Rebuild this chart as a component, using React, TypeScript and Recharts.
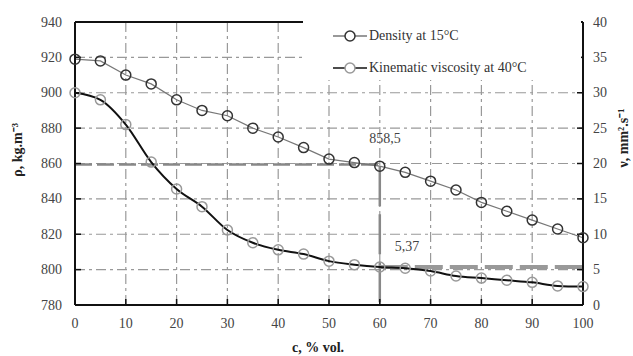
import {
  LineChart,
  Line,
  XAxis,
  YAxis,
  CartesianGrid,
  ReferenceLine,
  Label,
} from 'recharts';

const conc = [0, 5, 10, 15, 20, 25, 30, 35, 40, 45, 50, 55, 60, 65, 70, 75, 80, 85, 90, 95, 100];
const density = [919, 918, 910, 905, 896, 890, 887, 880, 875, 869, 862.5, 860.5, 858.5, 855, 850, 845, 838, 833, 828, 823, 818];
const viscosity = [30, 29, 25.5, 20.2, 16.4, 13.9, 10.6, 8.8, 7.8, 7.2, 6.2, 5.7, 5.37, 5.2, 4.8, 4.1, 3.8, 3.5, 3.2, 2.7, 2.6];

const xTicks = [0, 10, 20, 30, 40, 50, 60, 70, 80, 90, 100];
const leftTicks = [780, 800, 820, 840, 860, 880, 900, 920, 940];
const rightTicks = [0, 5, 10, 15, 20, 25, 30, 35, 40];

const data = conc.map((c, i) => ({ c, density: density[i], viscosity: viscosity[i] }));

const FONT = '"Liberation Serif", "Times New Roman", serif';

// ticks point inward (negative tickSize), labels shifted back outside
function makeTick(anchor: 'start' | 'middle' | 'end', dx: number, dy: number) {
  return (props: any) => {
    const { x, y, payload } = props;
    return (
      <text
        x={x + dx}
        y={y + dy}
        textAnchor={anchor}
        dominantBaseline="central"
        fontFamily={FONT}
        fontSize={14}
        fill="#444"
      >
        {payload.value}
      </text>
    );
  };
}

function rotatedText(x: number, y: number, text: string) {
  return () => (
    <text
      x={x}
      y={y}
      transform={`rotate(-90 ${x} ${y})`}
      textAnchor="middle"
      dominantBaseline="central"
      fontFamily={FONT}
      fontSize={14}
      fontWeight="bold"
      fill="#222"
    >
      {text}
    </text>
  );
}

function plainText(x: number, y: number, text: string, bold = false) {
  return () => (
    <text
      x={x}
      y={y}
      textAnchor="middle"
      dominantBaseline="central"
      fontFamily={FONT}
      fontSize={14}
      fontWeight={bold ? 'bold' : 'normal'}
      fill={bold ? '#222' : '#444'}
    >
      {text}
    </text>
  );
}

function LegendBox() {
  const row = (stroke: string, dotStroke: string, text: string) => (
    <div style={{ display: 'flex', alignItems: 'center', height: 32 }}>
      <svg width={34} height={14} style={{ marginRight: 2 }}>
        <line x1={0} y1={7} x2={34} y2={7} stroke={stroke} strokeWidth={1.5} />
        <circle cx={17} cy={7} r={5} fill="#fff" stroke={dotStroke} strokeWidth={1.5} />
      </svg>
      <span>{text}</span>
    </div>
  );
  return (
    <div
      style={{
        position: 'absolute',
        left: 303,
        top: 14,
        background: '#fff',
        width: 278,
        height: 66,
        paddingLeft: 30,
        paddingTop: 6,
        boxSizing: 'border-box',
        fontFamily: FONT,
        fontSize: 14,
        color: '#333',
      }}
    >
      {row('#777', '#333', 'Density at 15°C')}
      {row('#111', '#999', 'Kinematic viscosity at 40°C')}
    </div>
  );
}

const tickLine = { stroke: '#111', strokeWidth: 1.5 };
const axisLine = { stroke: '#111', strokeWidth: 2 };

export default function App() {
  return (
    <div style={{ position: 'absolute', left: 0, top: 0, width: 633, height: 356, background: '#fff', fontFamily: FONT }}>
      <LineChart width={633} height={356} data={data} margin={{ top: 22, right: 0, bottom: 0, left: 0 }}>
        <CartesianGrid yAxisId="left" stroke="#999" strokeWidth={1.2} strokeDasharray="10 4 3 4" />
        <XAxis
          dataKey="c"
          type="number"
          domain={[0, 100]}
          ticks={xTicks}
          height={51}
          tick={makeTick('middle', 0, 22)}
          tickSize={-6}
          tickMargin={2}
          tickLine={tickLine}
          axisLine={axisLine}
        >
          <Label content={plainText(318, 347, 'c, % vol.', true)} />
        </XAxis>
        <YAxis
          yAxisId="left"
          domain={[780, 940]}
          ticks={leftTicks}
          width={75}
          tick={makeTick('end', -17, 0)}
          tickSize={-6}
          tickMargin={2}
          tickLine={tickLine}
          axisLine={axisLine}
        >
          <Label content={rotatedText(17, 150, 'ρ, kg.m⁻³')} />
        </YAxis>
        <YAxis
          yAxisId="right"
          orientation="right"
          domain={[0, 40]}
          ticks={rightTicks}
          width={50}
          tick={makeTick('start', 14, 0)}
          tickSize={-6}
          tickMargin={2}
          tickLine={tickLine}
          axisLine={axisLine}
        >
          <Label content={rotatedText(623, 138, 'ν, mm².s⁻¹')} />
        </YAxis>
        <ReferenceLine yAxisId="left" y={940} stroke="#111" strokeWidth={2} />
        <ReferenceLine
          yAxisId="left"
          segment={[{ x: 0, y: 859.5 }, { x: 60, y: 859.5 }]}
          stroke="#888"
          strokeWidth={2.5}
          strokeDasharray="17 5"
        />
        <ReferenceLine
          yAxisId="left"
          segment={[{ x: 60, y: 858.5 }, { x: 60, y: 780 }]}
          stroke="#888"
          strokeWidth={2.5}
          strokeDasharray="40 8"
        >
          <Label content={plainText(385, 138, '858,5')} />
        </ReferenceLine>
        <ReferenceLine
          yAxisId="right"
          segment={[{ x: 60, y: 5.37 }, { x: 100, y: 5.37 }]}
          stroke="#999"
          strokeWidth={4}
          strokeDasharray="28 7"
        >
          <Label content={plainText(407, 246, '5,37')} />
        </ReferenceLine>
        <Line
          yAxisId="left"
          dataKey="density"
          type="linear"
          stroke="#777"
          strokeWidth={1.2}
          dot={{ r: 5, stroke: '#333', strokeWidth: 1.5, fill: 'none' }}
          isAnimationActive={false}
        />
        <Line
          yAxisId="right"
          dataKey="viscosity"
          type="monotone"
          stroke="#111"
          strokeWidth={2}
          dot={{ r: 5, stroke: '#999', strokeWidth: 1.5, fill: 'none' }}
          isAnimationActive={false}
        />
      </LineChart>
      <LegendBox />
    </div>
  );
}
